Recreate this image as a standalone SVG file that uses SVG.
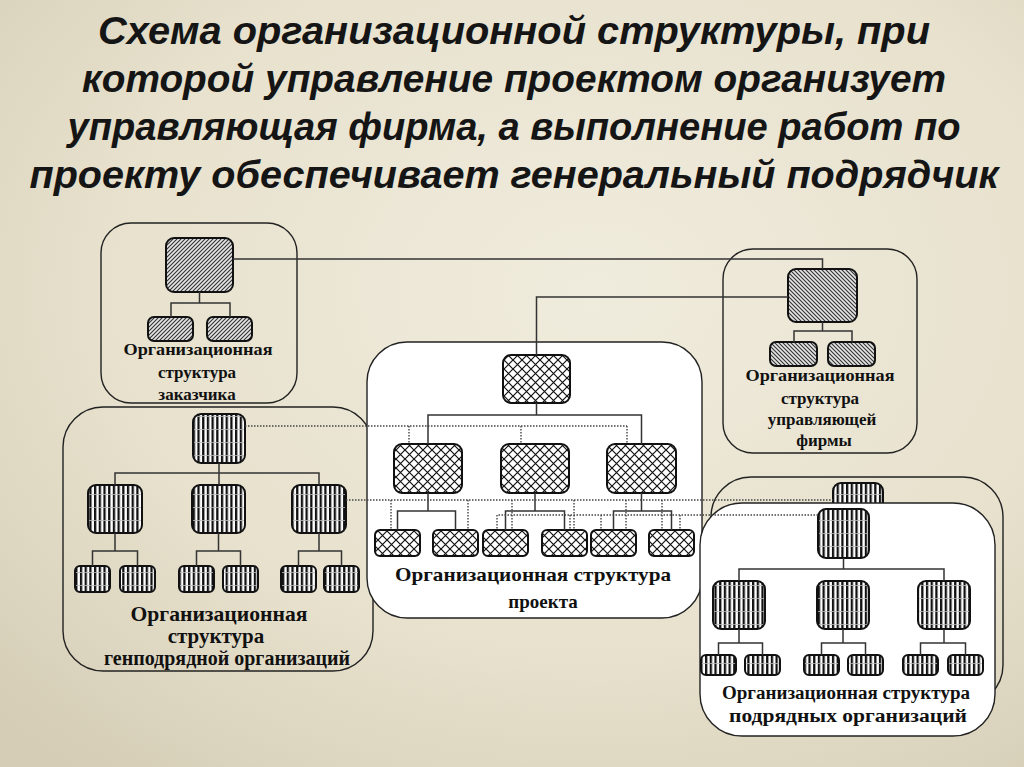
<svg xmlns="http://www.w3.org/2000/svg" width="1024" height="767" viewBox="0 0 1024 767">
<defs>
<radialGradient id="bg" cx="0.58" cy="0.38" r="0.8">
<stop offset="0" stop-color="#f0ecdd"/>
<stop offset="0.6" stop-color="#e7e1cd"/>
<stop offset="1" stop-color="#d5cdb6"/>
</radialGradient>
<pattern id="pCust" width="4" height="4" patternUnits="userSpaceOnUse">
<rect width="4" height="4" fill="#e4e4e4"/>
<path d="M-1 1 L1 -1 M0 4 L4 0 M3 5 L5 3" stroke="#333" stroke-width="1.1"/>
</pattern>
<pattern id="pFirm" width="4" height="4" patternUnits="userSpaceOnUse">
<rect width="4" height="4" fill="#e4e4e4"/>
<path d="M-1 3 L1 5 M0 0 L4 4 M3 -1 L5 1" stroke="#333" stroke-width="1.1"/>
</pattern>
<pattern id="pProj" width="9" height="9" patternUnits="userSpaceOnUse">
<rect width="9" height="9" fill="#fff"/>
<path d="M0 0 L9 9 M9 0 L0 9" stroke="#111" stroke-width="1.2"/>
</pattern>
<pattern id="pStripe" width="4.7" height="13" patternUnits="userSpaceOnUse">
<rect width="4.7" height="13" fill="#fff"/>
<rect x="0" width="2.3" height="13" fill="#111"/>
<rect y="0" width="4.7" height="0.8" fill="#bbb"/>
</pattern>
</defs>
<style>
.title{font-family:"Liberation Sans",Arial,sans-serif;font-weight:bold;font-style:italic;font-size:39px;fill:#151515;text-anchor:middle}
.lbl{font-family:"Liberation Serif","Times New Roman",serif;font-weight:bold;fill:#111;text-anchor:middle}
.cont{fill:none;stroke:#222;stroke-width:1.4}
.contw{fill:#fff;stroke:#222;stroke-width:1.4}
.n{stroke:#111;stroke-width:2}
.cu{fill:url(#pCust)}
.fi{fill:url(#pFirm)}
.pr{fill:url(#pProj)}
.st{fill:url(#pStripe)}
.ln{fill:none;stroke:#333;stroke-width:1.5}
.dt{fill:none;stroke:#444;stroke-width:1.4;stroke-dasharray:1.5 1.5}
</style>
<rect width="1024" height="767" fill="url(#bg)"/>

<g id="title">
<text class="title" x="514" y="44" textLength="832" lengthAdjust="spacingAndGlyphs">Схема организационной структуры, при</text>
<text class="title" x="514" y="92" textLength="864" lengthAdjust="spacingAndGlyphs">которой управление проектом организует</text>
<text class="title" x="514" y="140" textLength="893" lengthAdjust="spacingAndGlyphs">управляющая фирма, а выполнение работ по</text>
<text class="title" x="514" y="188" textLength="969" lengthAdjust="spacingAndGlyphs">проекту обеспечивает генеральный подрядчик</text>
</g>

<g id="customer">
<rect class="cont" x="101" y="223" width="196" height="180" rx="30"/>
<g id="cust-top"><rect class="n cu" x="166" y="238" width="67" height="54" rx="8"/></g>
<g id="cust-c1"><rect class="n cu" x="148" y="317" width="45" height="24" rx="6"/></g>
<g id="cust-c2"><rect class="n cu" x="207" y="317" width="45" height="24" rx="6"/></g>
<text class="lbl" font-size="17" x="198" y="355" textLength="149" lengthAdjust="spacingAndGlyphs">Организационная</text>
<text class="lbl" font-size="17" x="197" y="378">структура</text>
<text class="lbl" font-size="17" x="197" y="400">заказчика</text>
</g>

<g id="firm">
<rect class="cont" x="723" y="249" width="194" height="204" rx="30"/>
<g id="firm-top"><rect class="n fi" x="788" y="269" width="69" height="53" rx="8"/></g>
<g id="firm-c1"><rect class="n fi" x="770" y="342" width="47" height="24" rx="6"/></g>
<g id="firm-c2"><rect class="n fi" x="828" y="342" width="47" height="24" rx="6"/></g>
<text class="lbl" font-size="17" x="820" y="381" textLength="149" lengthAdjust="spacingAndGlyphs">Организационная</text>
<text class="lbl" font-size="17" x="820" y="404">структура</text>
<text class="lbl" font-size="17" x="822" y="425">управляющей</text>
<text class="lbl" font-size="17" x="824" y="446">фирмы</text>
</g>

<g id="gencontractor">
<rect class="cont" x="63" y="407" width="310" height="264" rx="40"/>
<g id="gc-top"><rect class="n st" x="193" y="414" width="52" height="49" rx="8"/></g>
<g id="gc-l2a"><rect class="n st" x="88" y="485" width="54" height="48" rx="8"/></g>
<g id="gc-l2b"><rect class="n st" x="192" y="485" width="53" height="48" rx="8"/></g>
<g id="gc-l2c"><rect class="n st" x="292" y="485" width="54" height="48" rx="8"/></g>
<g id="gc-l3a"><rect class="n st" x="75" y="566" width="35" height="26" rx="5"/></g>
<g id="gc-l3b"><rect class="n st" x="120" y="566" width="35" height="26" rx="5"/></g>
<g id="gc-l3c"><rect class="n st" x="179" y="566" width="35" height="26" rx="5"/></g>
<g id="gc-l3d"><rect class="n st" x="223" y="566" width="35" height="26" rx="5"/></g>
<g id="gc-l3e"><rect class="n st" x="281" y="566" width="35" height="26" rx="5"/></g>
<g id="gc-l3f"><rect class="n st" x="324" y="566" width="35" height="26" rx="5"/></g>
<text class="lbl" font-size="21" x="219" y="621" textLength="177" lengthAdjust="spacingAndGlyphs">Организационная</text>
<text class="lbl" font-size="21" x="216" y="643">структура</text>
<text class="lbl" font-size="21" x="227" y="665" textLength="246" lengthAdjust="spacingAndGlyphs">генподрядной организаций</text>
</g>

<g id="project">
<rect class="contw" x="367" y="342" width="335" height="276" rx="40"/>
<g id="pr-top"><rect class="n pr" x="503" y="355" width="67" height="48" rx="8"/></g>
<g id="pr-l2a"><rect class="n pr" x="394" y="444" width="68" height="49" rx="8"/></g>
<g id="pr-l2b"><rect class="n pr" x="501" y="444" width="68" height="49" rx="8"/></g>
<g id="pr-l2c"><rect class="n pr" x="607" y="444" width="69" height="49" rx="8"/></g>
<g id="pr-l3a"><rect class="n pr" x="375" y="530" width="45" height="26" rx="5"/></g>
<g id="pr-l3b"><rect class="n pr" x="433" y="530" width="45" height="26" rx="5"/></g>
<g id="pr-l3c"><rect class="n pr" x="483" y="530" width="45" height="26" rx="5"/></g>
<g id="pr-l3d"><rect class="n pr" x="542" y="530" width="45" height="26" rx="5"/></g>
<g id="pr-l3e"><rect class="n pr" x="591" y="530" width="45" height="26" rx="5"/></g>
<g id="pr-l3f"><rect class="n pr" x="649" y="530" width="45" height="26" rx="5"/></g>
<text class="lbl" font-size="19" x="533" y="581" textLength="276" lengthAdjust="spacingAndGlyphs">Организационная структура</text>
<text class="lbl" font-size="19" x="543" y="608">проекта</text>
</g>

<g id="sub-back">
<rect class="cont" x="711" y="477" width="292" height="228" rx="40"/>
<g id="sb-top"><rect class="n st" x="833" y="483" width="50" height="48" rx="8"/></g>
</g>

<g id="sub-front">
<rect class="contw" x="700" y="503" width="295" height="233" rx="42"/>
<g id="sf-top"><rect class="n st" x="818" y="509" width="51" height="49" rx="8"/></g>
<g id="sf-l2a"><rect class="n st" x="713" y="581" width="52" height="48" rx="8"/></g>
<g id="sf-l2b"><rect class="n st" x="817" y="581" width="52" height="48" rx="8"/></g>
<g id="sf-l2c"><rect class="n st" x="918" y="581" width="52" height="48" rx="8"/></g>
<g id="sf-l3a"><rect class="n st" x="701" y="655" width="35" height="20" rx="5"/></g>
<g id="sf-l3b"><rect class="n st" x="745" y="655" width="35" height="20" rx="5"/></g>
<g id="sf-l3c"><rect class="n st" x="804" y="655" width="35" height="20" rx="5"/></g>
<g id="sf-l3d"><rect class="n st" x="848" y="655" width="35" height="20" rx="5"/></g>
<g id="sf-l3e"><rect class="n st" x="903" y="655" width="35" height="20" rx="5"/></g>
<g id="sf-l3f"><rect class="n st" x="948" y="655" width="35" height="20" rx="5"/></g>
<text class="lbl" font-size="18" x="846" y="699" textLength="248" lengthAdjust="spacingAndGlyphs">Организационная структура</text>
<text class="lbl" font-size="18" x="848" y="722" textLength="238" lengthAdjust="spacingAndGlyphs">подрядных организаций</text>
</g>

<g id="connectors">
<path class="ln" d="M199.5 292 V303 M171 317 V303 H230 V317"/>
<path class="ln" d="M822.5 322 V331 M794 342 V331 H852 V342"/>
<path class="ln" d="M233 259 H822.5 V269"/>
<path class="ln" d="M788 297 H536.5 V355"/>
<path class="ln" d="M536.5 403 V415 M428 444 V415 H641.5 V444"/>
<path class="ln" d="M428 493 V511 M397.5 530 V511 H455.5 V530"/>
<path class="ln" d="M535 493 V511 M505.5 530 V511 H564.5 V530"/>
<path class="ln" d="M641.5 493 V511 M613.5 530 V511 H671.5 V530"/>
<path class="ln" d="M219 463 V485 M115 485 V473 H319 V485"/>
<path class="ln" d="M115 533 V551 M92.5 566 V551 H137.5 V566"/>
<path class="ln" d="M218.5 533 V551 M196.5 566 V551 H240.5 V566"/>
<path class="ln" d="M319 533 V551 M298.5 566 V551 H341.5 V566"/>
<path class="ln" d="M843.5 558 V569 M739 581 V569 H944 V581"/>
<path class="ln" d="M739 629 V643 M718.5 655 V643 H762.5 V655"/>
<path class="ln" d="M843 629 V643 M821.5 655 V643 H865.5 V655"/>
<path class="ln" d="M944 629 V643 M920.5 655 V643 H965.5 V655"/>
<path class="dt" d="M245 426 H627 M409 426 V444 M521 426 V444 M627 426 V444"/>
<path class="dt" d="M346 500 H833 M391 500 V530 M468 500 V530 M512 500 V530 M574 500 V530 M626 500 V530 M662 500 V530"/>
<path class="dt" d="M818 515 H497 M497 515 V530 M570 515 V530 M601 515 V530 M680 515 V530"/>
</g>
</svg>
